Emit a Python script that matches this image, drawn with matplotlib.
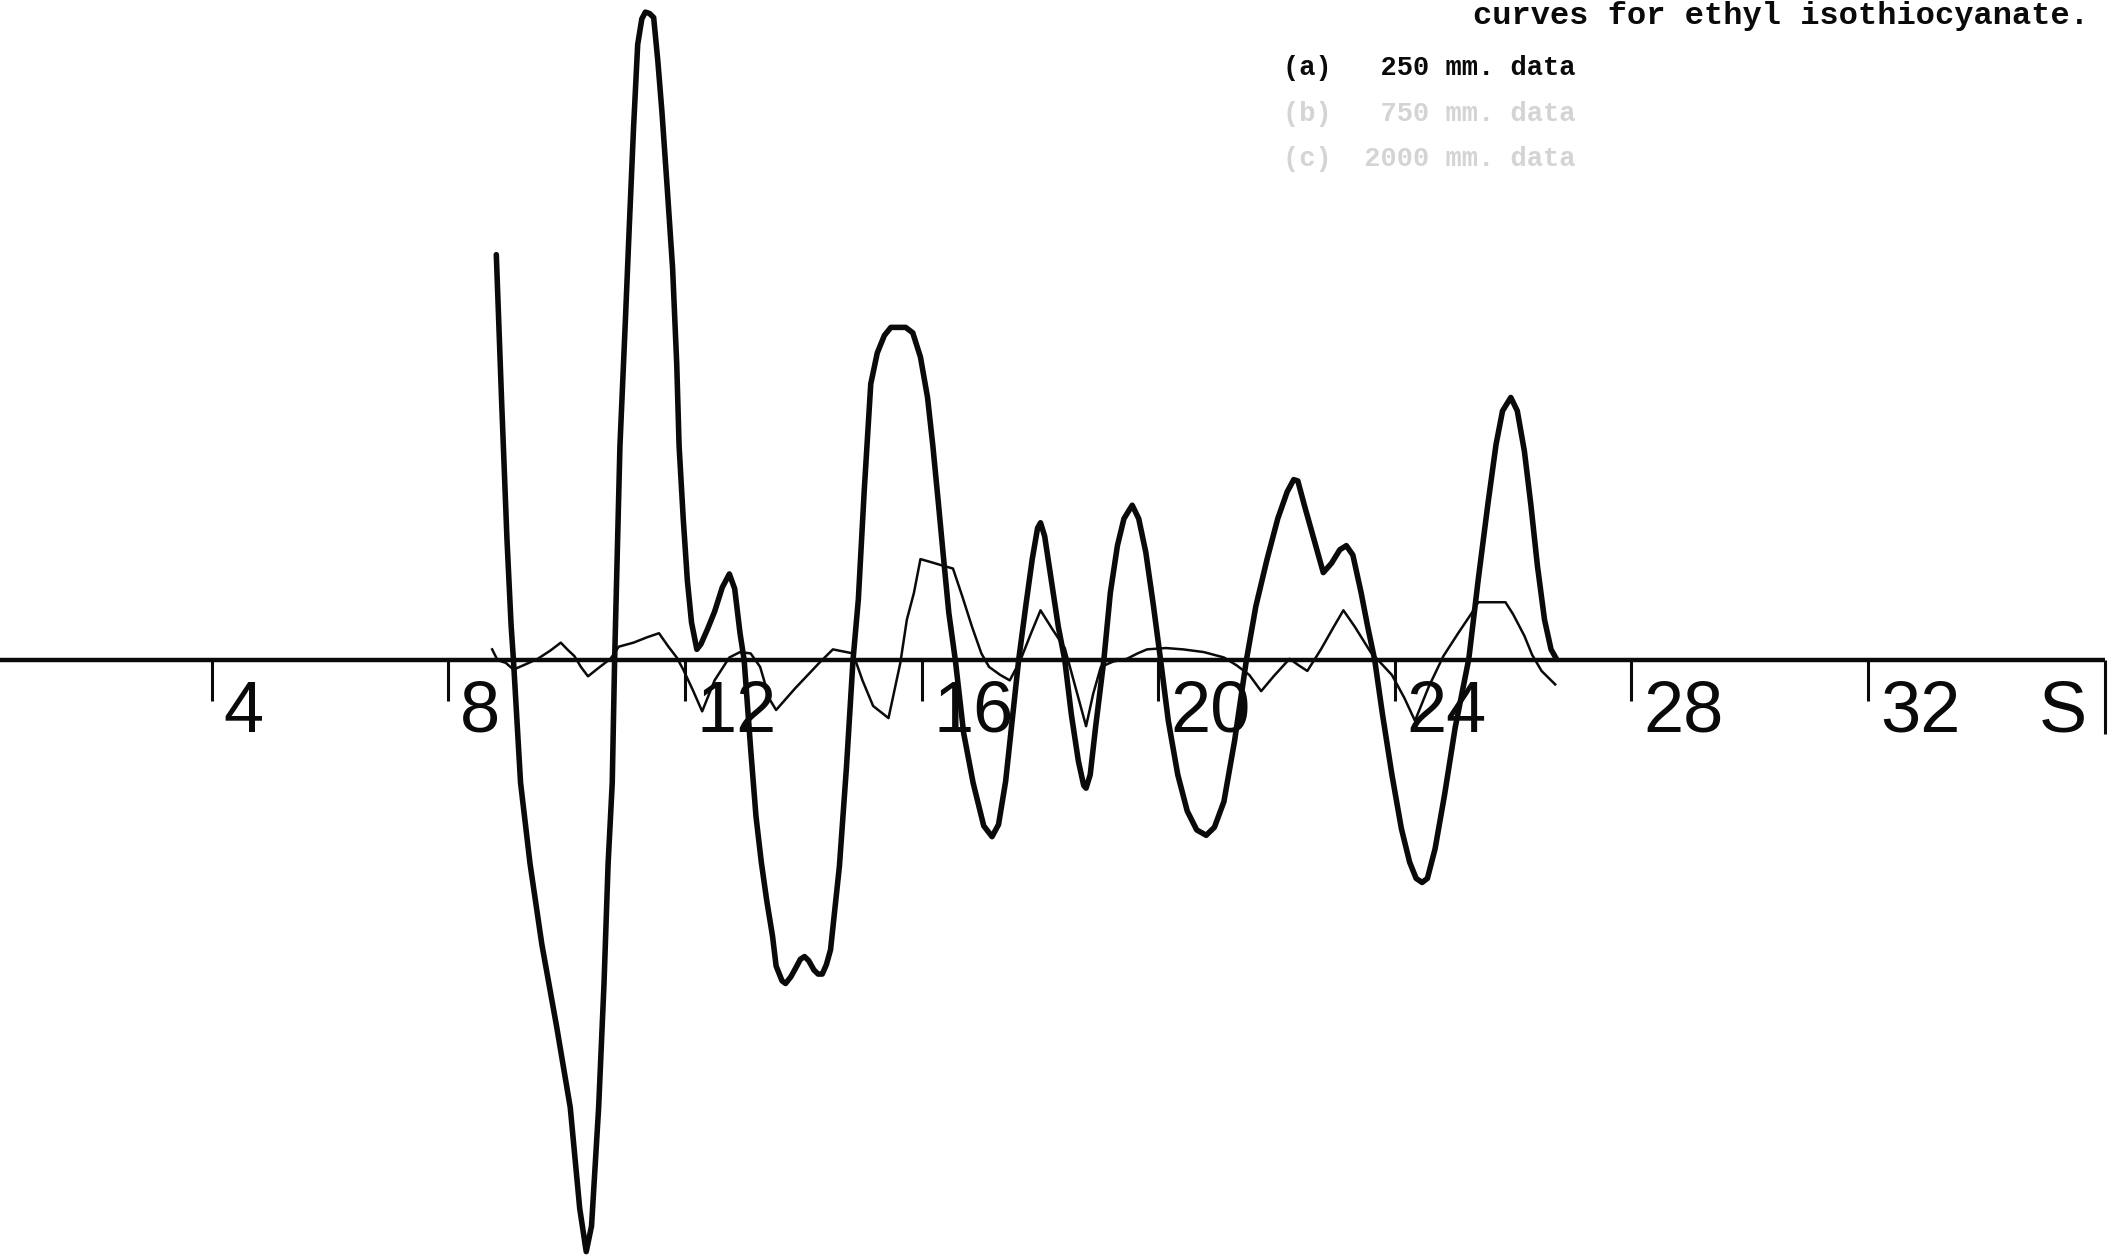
import matplotlib
matplotlib.use("Agg")
import matplotlib.pyplot as plt

# Modified radial intensity, 250 mm. camera data (heavy trace)
s_250 = [8.81, 8.90, 8.99, 9.06, 9.10, 9.22, 9.38, 9.58, 9.83, 10.06, 10.22, 10.33,
         10.42, 10.54, 10.63, 10.70, 10.77, 10.81, 10.90, 10.99, 11.06, 11.13, 11.20,
         11.27, 11.33, 11.40, 11.47, 11.54, 11.61, 11.70, 11.79, 11.86, 11.90, 11.97,
         12.04, 12.11, 12.20, 12.27, 12.38, 12.50, 12.63, 12.75, 12.84, 12.93, 13.00,
         13.11, 13.20, 13.29, 13.38, 13.48, 13.54, 13.64, 13.70, 13.79, 13.89, 13.95,
         14.02, 14.09, 14.18, 14.25, 14.32, 14.39, 14.46, 14.52, 14.61, 14.73, 14.84,
         14.93, 15.03, 15.14, 15.25, 15.37, 15.48, 15.59, 15.73, 15.85, 15.98, 16.10,
         16.19, 16.28, 16.37, 16.46, 16.57, 16.71, 16.87, 17.05, 17.19, 17.30, 17.42,
         17.53, 17.64, 17.76, 17.87, 17.96, 18.01, 18.08, 18.19, 18.31, 18.42, 18.53,
         18.65, 18.74, 18.78, 18.85, 18.94, 19.08, 19.19, 19.31, 19.42, 19.56, 19.67,
         19.79, 19.92, 20.04, 20.17, 20.33, 20.49, 20.65, 20.81, 20.95, 21.11, 21.29,
         21.49, 21.65, 21.84, 22.02, 22.18, 22.29, 22.36, 22.47, 22.63, 22.79, 22.93,
         23.07, 23.18, 23.29, 23.43, 23.54, 23.66, 23.79, 23.95, 24.11, 24.25, 24.36,
         24.46, 24.55, 24.68, 24.84, 25.02, 25.25, 25.41, 25.57, 25.71, 25.82, 25.96,
         26.07, 26.19, 26.30, 26.41, 26.53, 26.64, 26.73]
i_250 = [30.1, 19.2, 9.0, 2.6, 0.0, -9.1, -15.1, -21.1, -27.2, -33.2, -40.7, -43.9,
         -42.0, -33.2, -24.1, -15.1, -9.1, 0.0, 15.9, 25.0, 32.4, 39.5, 45.7,
         47.6, 48.1, 48.0, 47.7, 44.5, 40.7, 35.0, 29.1, 22.0, 15.9, 10.5,
         5.9, 2.8, 0.8, 1.2, 2.3, 3.6, 5.4, 6.4, 5.3, 2.0, 0.0,
         -6.6, -11.6, -15.0, -17.8, -20.5, -22.7, -23.8, -24.0, -23.5, -22.7, -22.2,
         -22.0, -22.3, -23.0, -23.3, -23.3, -22.6, -21.5, -19.0, -15.3, -7.9, 0.0,
         4.5, 12.6, 20.5, 22.8, 24.1, 24.7, 24.7, 24.7, 24.3, 22.5, 19.5,
         15.9, 11.8, 7.6, 3.5, 0.0, -5.4, -9.1, -12.3, -13.1, -12.2, -9.0,
         -4.5, 0.0, 4.0, 7.5, 9.8, 10.2, 9.2, 6.0, 2.5, 0.0, -4.0,
         -7.5, -9.3, -9.5, -8.5, -5.0, 0.0, 5.0, 8.5, 10.5, 11.5, 10.5,
         8.0, 4.0, 0.0, -4.5, -8.5, -11.2, -12.6, -13.0, -12.4, -10.5, -6.0,
         0.0, 4.0, 7.5, 10.5, 12.5, 13.4, 13.3, 11.5, 9.0, 6.5, 7.2,
         8.2, 8.5, 7.8, 5.0, 2.5, 0.0, -4.0, -8.5, -12.5, -15.0, -16.2,
         -16.5, -16.2, -14.0, -10.0, -5.0, 0.1, 6.0, 11.5, 16.0, 18.5, 19.5,
         18.5, 15.5, 11.5, 7.0, 3.0, 0.8, 0.1]

# Second data set (light trace)
s_b = [8.74, 8.83, 8.97, 9.10, 9.31, 9.51, 9.72, 9.90, 10.01, 10.13, 10.24, 10.36,
       10.56, 10.74, 10.88, 11.13, 11.36, 11.56, 11.72, 11.86, 11.97, 12.13, 12.29,
       12.50, 12.75, 12.93, 13.11, 13.27, 13.43, 13.54, 13.86, 14.27, 14.50, 14.84,
       15.00, 15.18, 15.44, 15.64, 15.75, 15.87, 15.98, 16.14, 16.37, 16.53, 16.69,
       16.85, 17.01, 17.14, 17.33, 17.49, 17.67, 17.85, 18.01, 18.21, 18.42, 18.60,
       18.78, 18.90, 19.03, 19.24, 19.47, 19.65, 19.81, 20.13, 20.42, 20.77, 21.11,
       21.33, 21.54, 21.74, 21.95, 22.22, 22.38, 22.52, 22.75, 22.97, 23.13, 23.32,
       23.59, 23.95, 24.16, 24.34, 24.57, 24.82, 25.07, 25.30, 25.41, 25.87, 26.00,
       26.19, 26.32, 26.48, 26.71]
i_b = [0.8, 0.0, -0.2, -0.7, -0.3, 0.1, 0.7, 1.3, 0.8, 0.3, -0.5, -1.2,
       -0.5, 0.1, 1.0, 1.3, 1.7, 2.0, 1.0, 0.2, -0.7, -2.2, -3.8,
       -1.5, 0.2, 0.6, 0.5, -0.5, -2.9, -3.7, -2.1, -0.2, 0.8, 0.5,
       -1.5, -3.4, -4.3, -0.2, 3.0, 5.0, 7.5, 7.3, 7.0, 6.8, 4.7,
       2.5, 0.5, -0.5, -1.1, -1.5, 0.0, 2.0, 3.7, 2.3, 0.9, -2.0,
       -4.9, -2.5, -0.5, -0.1, 0.1, 0.5, 0.8, 0.9, 0.8, 0.6, 0.2,
       -0.4, -1.1, -2.3, -1.2, 0.1, -0.4, -0.8, 0.8, 2.5, 3.7, 2.5,
       0.6, -1.1, -2.8, -4.5, -2.0, 0.3, 2.0, 3.5, 4.3, 4.3, 3.4,
       1.8, 0.4, -0.8, -1.8]

# s-axis scale
tick_values = [4, 8, 12, 16, 20, 24, 28, 32]
tick_labels = ["4", "8", "12", "16", "20", "24", "28", "32"]
axis_end = 36
axis_name = "S"

title_tail = "curves for ethyl isothiocyanate."
legend_lines = ["(a)   250 mm. data", "(b)   750 mm. data", "(c)  2000 mm. data"]

W, H, DPI = 2113, 1257, 100
fig = plt.figure(figsize=(W / DPI, H / DPI), dpi=DPI, facecolor="white")
ax = fig.add_axes([0, 0, 1, 1])
ax.set_xlim(0.42, 36.14)
ax.set_ylim(-44.3, 49.0)
ax.axis("off")

ink = "#0a0a0a"

# baseline and scale
ax.hlines(0, ax.get_xlim()[0], axis_end, color=ink, lw=3.2, capstyle="butt", zorder=2)
ax.vlines(tick_values, -3.0, 0, color=ink, lw=2.2, zorder=2)
ax.vlines([axis_end], -5.5, 0, color=ink, lw=2.2, zorder=2)

label_font = ["Liberation Sans", "DejaVu Sans"]
for v, lab in zip(tick_values, tick_labels):
    ax.text(v + 0.2, -5.3, lab, fontsize=52, family=label_font,
            ha="left", va="baseline", color=ink, zorder=1)
ax.text(axis_end - 1.12, -5.3, axis_name, fontsize=52, family=label_font,
        ha="left", va="baseline", color=ink, zorder=1)

# curves
ax.plot(s_b, i_b, color=ink, lw=1.8, solid_joinstyle="round", zorder=3)
ax.plot(s_250, i_250, color=ink, lw=4.0, solid_joinstyle="round",
        solid_capstyle="round", zorder=4)

# typed caption
mono = ["Liberation Mono", "DejaVu Sans Mono"]
fig.text(1473 / W, 1 - 24 / H, title_tail, fontsize=23, family=mono,
         fontweight="bold", ha="left", va="baseline", color=ink)
legend_colors = [ink, "#d4d4d4", "#d4d4d4"]
legend_base = [75, 121, 166]
for txt, col, yb in zip(legend_lines, legend_colors, legend_base):
    fig.text(1283 / W, 1 - yb / H, txt, fontsize=19.5, family=mono,
             fontweight="bold", ha="left", va="baseline", color=col)

fig.savefig("out.png", dpi=DPI, facecolor="white")
